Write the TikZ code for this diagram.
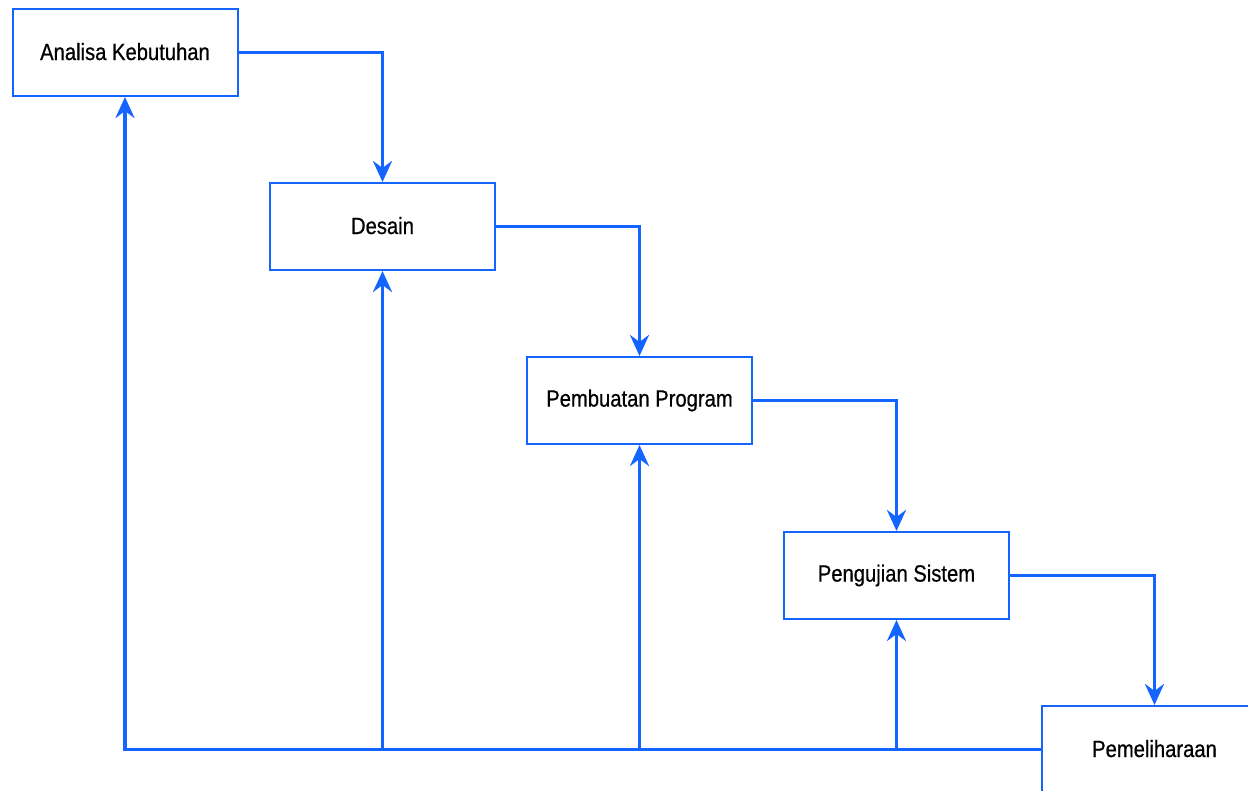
\documentclass[tikz,border=0pt]{standalone}
\usepackage{fontspec}
\setmainfont{Liberation Sans}[FakeStretch=0.86, FakeBold=0.6]
\usetikzlibrary{arrows.meta}
\definecolor{flowblue}{RGB}{20,100,255}
\tikzset{
  stagebox/.style={draw=flowblue, line width=2pt, fill=white, minimum width=225pt, minimum height=87pt, inner sep=0pt, font=\fontsize{23.5}{26}\selectfont},
  flowarrow/.style={draw=flowblue, line width=3.8pt, -{Stealth[length=21pt, width=19pt, inset=7pt]}},
}
\begin{document}
\begin{tikzpicture}[x=1pt, y=-1pt]
\useasboundingbox (0,0) rectangle (1248,791);
\clip (0,0) rectangle (1248,791);
\node[stagebox] (ana) at (125,52.5) {\raisebox{2pt}{Analisa Kebutuhan}};
\node[stagebox] (des) at (382.5,226.5) {\raisebox{2pt}{Desain}};
\node[stagebox] (pro) at (639.5,400.5) {\raisebox{2pt}{Pembuatan Program}};
\node[stagebox] (uji) at (896.5,575.5) {\raisebox{2pt}{Pengujian Sistem}};
\node[stagebox] (pem) at (1154.5,749.5) {\raisebox{2pt}{Pemeliharaan}};
\coordinate (jdes) at (des.south |- pem.west);
\coordinate (jpro) at (pro.south |- pem.west);
\coordinate (juji) at (uji.south |- pem.west);
\draw[flowarrow] (ana.east) -| (des.north);
\draw[flowarrow] (des.east) -| (pro.north);
\draw[flowarrow] (pro.east) -| (uji.north);
\draw[flowarrow] (uji.east) -| (pem.north);
\draw[flowarrow] (pem.west) -| (ana.south);
\draw[flowarrow] (jdes) -- (des.south);
\draw[flowarrow] (jpro) -- (pro.south);
\draw[flowarrow] (juji) -- (uji.south);
\end{tikzpicture}
\end{document}
